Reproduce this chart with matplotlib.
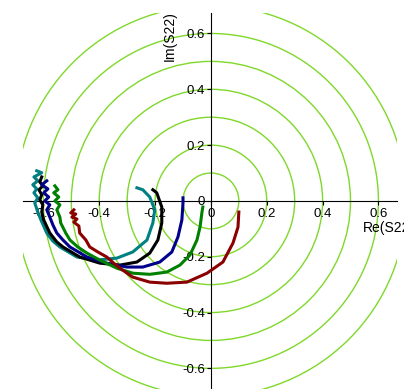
import matplotlib.pyplot as plt
from matplotlib.patches import Circle

plt.rcParams['font.family'] = ['Liberation Sans', 'DejaVu Sans']

# constant |S22| rings
radii = [0.1, 0.2, 0.3, 0.4, 0.5, 0.6, 0.7]
ticks = [-0.6, -0.4, -0.2, 0, 0.2, 0.4, 0.6]
tick_labels = ['-0.6', '-0.4', '-0.2', '0', '0.2', '0.4', '0.6']

# S22 traces (Re, Im)
teal_re = [-0.624, -0.606, -0.634, -0.620, -0.638, -0.624, -0.634, -0.620, -0.631, -0.620, -0.609, -0.588,
           -0.566, -0.541, -0.480, -0.409, -0.337, -0.280, -0.229, -0.208, -0.201, -0.219, -0.244, -0.265]
teal_im = [0.108, 0.101, 0.086, 0.072, 0.058, 0.043, 0.029, 0.011, -0.007, -0.040, -0.068, -0.115,
           -0.144, -0.165, -0.201, -0.212, -0.205, -0.183, -0.140, -0.079, -0.032, 0.014, 0.040, 0.047]

black_re = [-0.606, -0.613, -0.602, -0.616, -0.606, -0.613, -0.602, -0.606, -0.599, -0.577, -0.552,
            -0.530, -0.470, -0.398, -0.326, -0.265, -0.219, -0.190, -0.176, -0.176, -0.194, -0.208]
black_im = [0.086, 0.068, 0.054, 0.040, 0.022, 0.004, -0.014, -0.040, -0.068, -0.115, -0.147,
            -0.165, -0.201, -0.223, -0.230, -0.219, -0.187, -0.140, -0.079, -0.022, 0.029, 0.040]

blue_re = [-0.588, -0.606, -0.584, -0.599, -0.581, -0.595, -0.577, -0.588, -0.577, -0.566, -0.552, -0.530,
           -0.505, -0.444, -0.373, -0.301, -0.244, -0.183, -0.140, -0.118, -0.104, -0.100, -0.100]
blue_im = [0.072, 0.058, 0.043, 0.029, 0.014, 0.0, -0.014, -0.032, -0.058, -0.086, -0.115, -0.140,
           -0.165, -0.201, -0.223, -0.237, -0.237, -0.219, -0.183, -0.129, -0.068, -0.007, 0.011]

green_re = [-0.559, -0.548, -0.563, -0.545, -0.559, -0.541, -0.552, -0.541, -0.538, -0.520, -0.505, -0.477,
            -0.444, -0.398, -0.337, -0.280, -0.219, -0.158, -0.111, -0.075, -0.050, -0.039, -0.032, -0.029]
green_im = [0.054, 0.040, 0.029, 0.014, 0.0, -0.014, -0.032, -0.058, -0.079, -0.115, -0.140, -0.165,
            -0.187, -0.212, -0.241, -0.259, -0.263, -0.255, -0.230, -0.194, -0.140, -0.094, -0.040, -0.022]

red_re = [-0.491, -0.502, -0.484, -0.498, -0.480, -0.491, -0.473, -0.470, -0.448, -0.434, -0.405, -0.373,
          -0.348, -0.326, -0.280, -0.219, -0.158, -0.086, -0.014, 0.043, 0.079, 0.097, 0.100]
red_im = [-0.032, -0.043, -0.047, -0.058, -0.065, -0.076, -0.090, -0.115, -0.140, -0.165, -0.183, -0.201,
          -0.223, -0.241, -0.273, -0.291, -0.295, -0.291, -0.259, -0.219, -0.151, -0.094, -0.040]

fig = plt.figure(figsize=(4.04, 3.89), dpi=100)
ax = fig.add_axes([0.057, 0.0, 0.926, 0.967])

for r in radii:
    ax.add_patch(Circle((0, 0), r, fill=False, color='#7fd82a', lw=1.0, zorder=1))

traces = [(teal_re, teal_im, '#008080'), (black_re, black_im, 'black'),
          (blue_re, blue_im, '#00008b'), (green_re, green_im, '#008000'),
          (red_re, red_im, '#8b0000')]
for re, im, c in traces:
    ax.plot(re, im, color=c, lw=2.2, zorder=3)

ax.set_xlim(-0.673, 0.667)
ax.set_ylim(-0.674, 0.674)
ax.set_aspect('auto')

ax.spines['left'].set_position('zero')
ax.spines['bottom'].set_position('zero')
ax.spines['top'].set_visible(False)
ax.spines['right'].set_visible(False)
ax.spines['left'].set_zorder(2)
ax.spines['bottom'].set_zorder(2)

ax.set_xticks(ticks)
ax.set_xticklabels(tick_labels)
ax.set_yticks(ticks)
ax.set_yticklabels(tick_labels)
ax.tick_params(axis='x', direction='out', length=3, pad=2, labelsize=9.5)
ax.tick_params(axis='y', direction='out', length=3, pad=1, labelsize=9.5)

ax.text(-0.147, 0.59, 'Im(S22)', rotation=90, ha='center', va='center', fontsize=10)
ax.text(0.545, -0.097, 'Re(S22)', ha='left', va='center', fontsize=10)

fig.savefig('out.png', dpi=100)
